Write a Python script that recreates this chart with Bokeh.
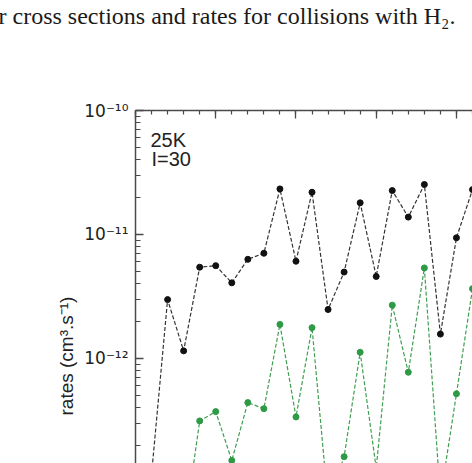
from bokeh.plotting import figure
from bokeh.models import Range1d, FixedTicker, CustomJSTickFormatter, Label, ColumnDataSource, Title
from bokeh.embed import file_html
from bokeh.resources import INLINE

# ---- data ----
black_x = list(range(1, 22))
black_y = [1.16e-13, 2.98e-12, 1.15e-12, 5.44e-12, 5.6e-12, 4.07e-12, 6.3e-12,
           7.05e-12, 2.33e-11, 6.08e-12, 2.19e-11, 2.48e-12, 4.97e-12, 1.80e-11,
           4.58e-12, 2.26e-11, 1.38e-11, 2.53e-11, 1.57e-12, 9.4e-12, 2.3e-11]
green_x = list(range(3, 22))
green_y = [3.8e-14, 3.13e-13, 3.72e-13, 1.5e-13, 4.4e-13, 3.93e-13, 1.88e-12,
           3.37e-13, 1.77e-12, 6.7e-14, 1.61e-13, 1.12e-12, 1.3e-13, 2.69e-12,
           7.73e-13, 5.37e-12, 7.5e-14, 5.18e-13, 3.65e-12]
x_major = [0, 5, 10, 15, 20]
x_minor = list(range(0, 22))
y_major = [1e-13, 1e-12, 1e-11, 1e-10]
y_labels = ["10\u207b\u00b9\u00b3", "10\u207b\u00b9\u00b2", "10\u207b\u00b9\u00b9", "10\u207b\u00b9\u2070"]
caption = "r cross sections and rates for collisions with H\u2082."
ylabel = "rates (cm\u00b3.s\u207b\u00b9)"
note1 = "25K"
note2 = "I=30"

W, H = 472, 463
p = figure(width=W, height=H, output_backend="svg", toolbar_location=None,
           x_axis_location="above", y_axis_type="log",
           x_range=Range1d(0, 21), y_range=Range1d(10 ** (-10 - 356 / 125), 1e-10),
           min_border_left=135, min_border_right=0, min_border_top=107, min_border_bottom=0)
p.outline_line_color = None
p.xgrid.visible = False
p.ygrid.visible = False
p.background_fill_color = "white"
p.border_fill_color = "white"

ax_col = "#4a4a4a"
txt_col = "#222222"

xa = p.xaxis[0]
xa.ticker = FixedTicker(ticks=x_major, minor_ticks=x_minor)
xa.formatter = CustomJSTickFormatter(code="return ''")
xa.axis_line_color = ax_col
xa.axis_line_width = 1.5
xa.major_tick_line_color = ax_col
xa.minor_tick_line_color = ax_col
xa.major_tick_line_width = 1.3
xa.minor_tick_line_width = 1.2
xa.major_tick_in = 8
xa.major_tick_out = 0
xa.minor_tick_in = 4
xa.minor_tick_out = 0
xa.major_label_text_font_size = "1px"

y_minor = [m * 10 ** e for e in range(-14, -10) for m in range(2, 10)]
ya = p.yaxis[0]
ya.ticker = FixedTicker(ticks=y_major, minor_ticks=y_minor)
ya.formatter = CustomJSTickFormatter(args=dict(vals=y_major, labs=y_labels), code="""
    let best = 0, bd = 1e9;
    for (let i = 0; i < vals.length; i++) {
        const d = Math.abs(Math.log10(vals[i]) - Math.log10(tick));
        if (d < bd) { bd = d; best = i; }
    }
    return labs[best];
""")
ya.axis_line_color = ax_col
ya.axis_line_width = 1.5
ya.major_tick_line_color = ax_col
ya.minor_tick_line_color = ax_col
ya.major_tick_line_width = 1.3
ya.minor_tick_line_width = 1.2
ya.major_tick_in = 8
ya.major_tick_out = 0
ya.minor_tick_in = 5
ya.minor_tick_out = 0
ya.major_label_standoff = 7
ya.major_label_text_font = "DejaVu Sans"
ya.major_label_text_font_size = "17px"
ya.major_label_text_color = txt_col

# series
bsrc = ColumnDataSource(dict(x=black_x, y=black_y))
gsrc = ColumnDataSource(dict(x=green_x, y=green_y))
p.line("x", "y", source=bsrc, line_color="#333333", line_width=1.2, line_dash="4 2")
p.scatter("x", "y", source=bsrc, size=6, fill_color="#111111", line_color="#111111")
p.line("x", "y", source=gsrc, line_color="#3f9e52", line_width=1.2, line_dash="4 2")
p.scatter("x", "y", source=gsrc, size=6, fill_color="#2e9a45", line_color="#2e9a45")

sans = "Liberation Sans"

# y axis label as a side title
p.add_layout(Title(text=ylabel, align="left", offset=48, text_font=sans,
                   text_font_size="19px", text_font_style="normal",
                   text_color=txt_col), "left")

# caption above (blank lines below it keep it at the top of the page)
p.title.text = caption + "\n \n \n "
p.title.align = "left"
p.title.offset = -137
p.title.standoff = 0
p.title.vertical_align = "bottom"
p.title.text_line_height = 1.045
p.title.text_font = "Liberation Serif"
p.title.text_font_size = "24px"
p.title.text_font_style = "normal"
p.title.text_color = "#1a1a1a"

# notes in plot
p.add_layout(Label(x=0, y=1e-10, x_offset=15, y_offset=-29, text=note1, text_align="left",
                   text_baseline="alphabetic", text_font=sans, text_font_size="20px",
                   text_color=txt_col))
p.add_layout(Label(x=0, y=1e-10, x_offset=16, y_offset=-48, text=note2, text_align="left",
                   text_baseline="alphabetic", text_font=sans, text_font_size="20px",
                   text_color=txt_col))

open("out.html", "w").write(file_html(p, INLINE))
